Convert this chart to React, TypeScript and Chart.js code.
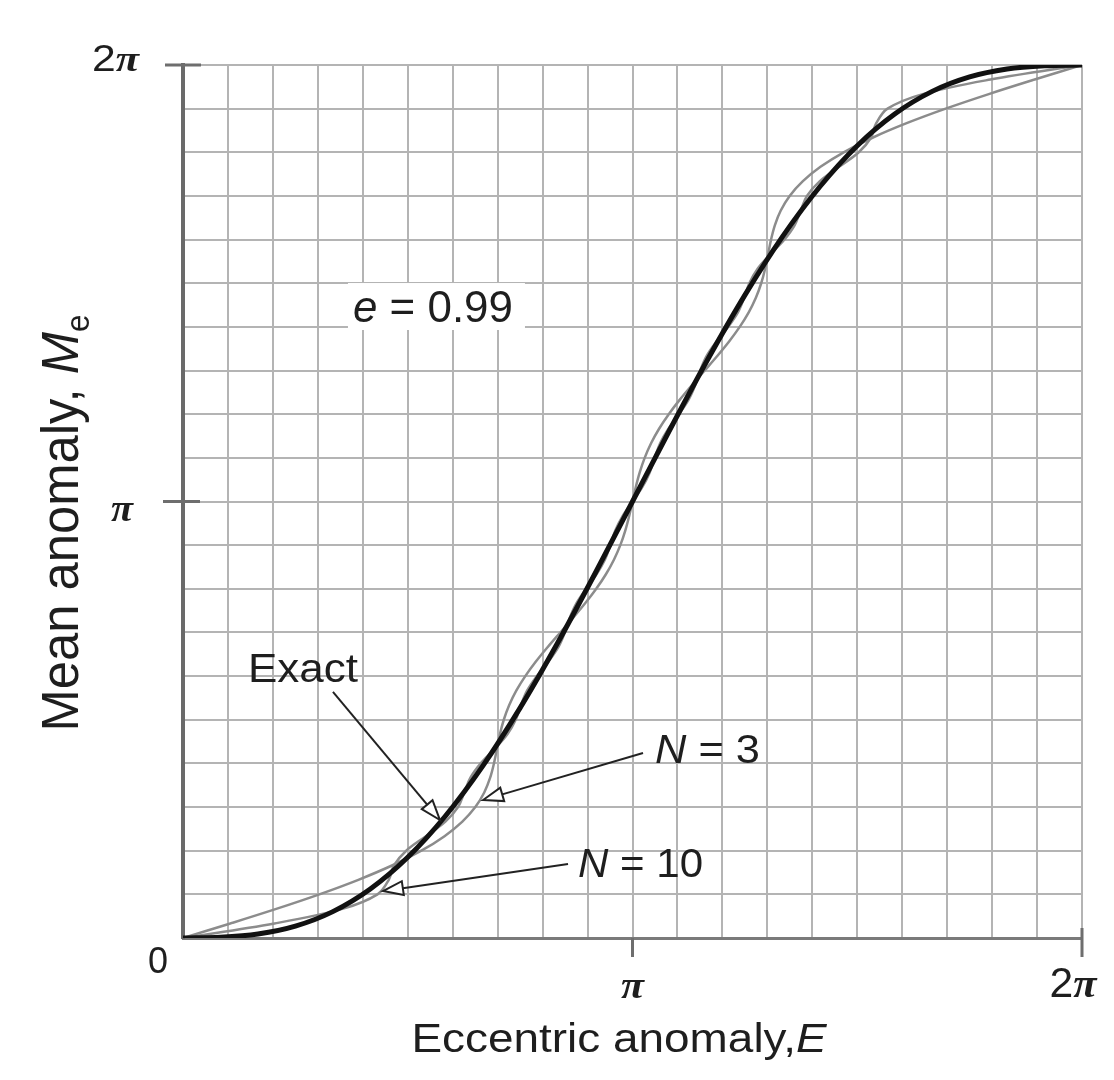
import React, { useEffect, useRef } from 'react';
import { Chart, registerables } from 'chart.js';

Chart.register(...registerables);

const PI = Math.PI;
const TWO_PI = 2 * Math.PI;

// Grid: 20 divisions of π/10 on each axis
const gridCount = 20;

// Exact curve: eccentric anomaly E (x) vs mean anomaly Me (y)
const exactE = [0, 0.2618, 0.5236, 0.7854, 1.0472, 1.309, 1.5708, 1.8326, 2.0944, 2.3562, 2.618, 2.8798, 3.1416, 3.4034, 3.6652, 3.927, 4.1888, 4.4506, 4.7124, 4.9742, 5.236, 5.4978, 5.7596, 6.0214, 6.2832];
const exactM = [0, 0.0056, 0.0286, 0.0854, 0.1898, 0.3527, 0.5808, 0.8763, 1.237, 1.6562, 2.123, 2.6236, 3.1416, 3.6596, 4.1602, 4.627, 5.0462, 5.4069, 5.7024, 5.9305, 6.0934, 6.1978, 6.2546, 6.2776, 6.2832];

// Series approximations: mean anomaly samples (y) and the E read for each (x)
const approxM = [0, 0.1047, 0.2094, 0.3142, 0.4189, 0.5236, 0.6283, 0.733, 0.8378, 0.9425, 1.0472, 1.1519, 1.2566, 1.3614, 1.4661, 1.5708, 1.6755, 1.7802, 1.885, 1.9897, 2.0944, 2.1991, 2.3038, 2.4086, 2.5133, 2.618, 2.7227, 2.8274, 2.9322, 3.0369, 3.1416, 3.2463, 3.351, 3.4558, 3.5605, 3.6652, 3.7699, 3.8746, 3.9794, 4.0841, 4.1888, 4.2935, 4.3982, 4.503, 4.6077, 4.7124, 4.8171, 4.9218, 5.0266, 5.1313, 5.236, 5.3407, 5.4454, 5.5502, 5.6549, 5.7596, 5.8643, 5.969, 6.0738, 6.1785, 6.2832];
const n3E = [0, 0.331, 0.6517, 0.9527, 1.2256, 1.4646, 1.6658, 1.8278, 1.9525, 2.0432, 2.1054, 2.1462, 2.1733, 2.1939, 2.2148, 2.242, 2.2794, 2.3293, 2.3923, 2.4664, 2.5494, 2.6372, 2.7257, 2.8106, 2.8882, 2.9558, 3.0118, 3.0565, 3.0911, 3.1184, 3.1416, 3.1648, 3.1921, 3.2267, 3.2714, 3.3274, 3.395, 3.4726, 3.5575, 3.646, 3.7338, 3.8168, 3.8909, 3.9539, 4.0038, 4.0412, 4.0684, 4.0893, 4.1099, 4.137, 4.1778, 4.24, 4.3307, 4.4554, 4.6174, 4.8186, 5.0576, 5.3305, 5.6315, 5.9522, 6.2832];
const n10E = [0, 0.6397, 1.114, 1.3593, 1.4381, 1.4752, 1.5602, 1.6976, 1.8339, 1.9222, 1.9661, 2.008, 2.0806, 2.1781, 2.2672, 2.3252, 2.3614, 2.4049, 2.4734, 2.5548, 2.6241, 2.669, 2.7029, 2.7494, 2.817, 2.8904, 2.9485, 2.9865, 3.0212, 3.0723, 3.1416, 3.2109, 3.262, 3.2967, 3.3347, 3.3928, 3.4662, 3.5338, 3.5803, 3.6142, 3.6591, 3.7284, 3.8098, 3.8783, 3.9218, 3.958, 4.016, 4.1051, 4.2026, 4.2752, 4.3171, 4.361, 4.4493, 4.5856, 4.723, 4.808, 4.8451, 4.9239, 5.1692, 5.6435, 6.2832];

type Seg = { t: string; italic?: boolean; serif?: boolean; bold?: boolean; sub?: boolean };

const SANS = '"Liberation Sans", Arial, sans-serif';
const SERIF = '"Liberation Serif", "Times New Roman", serif';

function drawRich(
  ctx: CanvasRenderingContext2D,
  segs: Seg[],
  x: number,
  y: number,
  size: number,
  opts: { align?: 'left' | 'center' | 'right'; width?: number; rotate?: number; sy?: number } = {}
) {
  const fontFor = (s: Seg) =>
    `${s.italic ? 'italic ' : ''}${s.bold ? 'bold ' : ''}${s.sub ? Math.round(size * 0.62) : size}px ${s.serif ? SERIF : SANS}`;
  ctx.save();
  let W = 0;
  const ws = segs.map((s) => {
    ctx.font = fontFor(s);
    const w = ctx.measureText(s.t).width;
    W += w;
    return w;
  });
  const sx = opts.width ? opts.width / W : 1;
  ctx.translate(x, y);
  if (opts.rotate) ctx.rotate(opts.rotate);
  ctx.scale(sx, opts.sy ?? 1);
  let cx = opts.align === 'center' ? -W / 2 : opts.align === 'right' ? -W : 0;
  ctx.textBaseline = 'alphabetic';
  ctx.textAlign = 'left';
  ctx.fillStyle = '#1e1e1e';
  segs.forEach((s, i) => {
    ctx.font = fontFor(s);
    ctx.fillText(s.t, cx, s.sub ? size * 0.2 : 0);
    cx += ws[i];
  });
  ctx.restore();
}

function arrow(ctx: CanvasRenderingContext2D, x1: number, y1: number, x2: number, y2: number) {
  const ang = Math.atan2(y2 - y1, x2 - x1);
  const len = 20;
  const hw = 7;
  const bx = x2 - len * Math.cos(ang);
  const by = y2 - len * Math.sin(ang);
  ctx.save();
  ctx.strokeStyle = '#222';
  ctx.lineWidth = 2;
  ctx.beginPath();
  ctx.moveTo(x1, y1);
  ctx.lineTo(bx, by);
  ctx.stroke();
  ctx.beginPath();
  ctx.moveTo(x2, y2);
  ctx.lineTo(bx + hw * Math.sin(ang), by - hw * Math.cos(ang));
  ctx.lineTo(bx - hw * Math.sin(ang), by + hw * Math.cos(ang));
  ctx.closePath();
  ctx.fillStyle = '#fff';
  ctx.fill();
  ctx.stroke();
  ctx.restore();
}

const PI_SEG: Seg = { t: 'π', italic: true, serif: true, bold: true };

const decorPlugin = {
  id: 'decor',
  beforeDraw(chart: any) {
    const ctx = chart.ctx;
    ctx.save();
    ctx.fillStyle = '#fff';
    ctx.fillRect(0, 0, chart.width, chart.height);
    ctx.restore();
  },
  afterDraw(chart: any) {
    const ctx: CanvasRenderingContext2D = chart.ctx;
    const xs = chart.scales.x;
    const ys = chart.scales.y;
    const px = (v: number) => xs.getPixelForValue(v);
    const py = (v: number) => ys.getPixelForValue(v);
    const left = chart.chartArea.left;
    const bottom = chart.chartArea.bottom;

    // tick stubs
    ctx.save();
    ctx.strokeStyle = '#6e6e6e';
    ctx.lineWidth = 3;
    ctx.beginPath();
    ctx.moveTo(left - 18, py(TWO_PI));
    ctx.lineTo(left + 18, py(TWO_PI));
    ctx.moveTo(left - 20, py(PI));
    ctx.lineTo(left + 17, py(PI));
    ctx.moveTo(px(PI), bottom);
    ctx.lineTo(px(PI), bottom + 19);
    ctx.moveTo(px(TWO_PI), bottom - 10);
    ctx.lineTo(px(TWO_PI), bottom + 19);
    ctx.stroke();
    ctx.restore();

    // tick labels
    drawRich(ctx, [{ t: '2' }, PI_SEG], left - 44, py(TWO_PI) + 6, 36, { align: 'right', width: 47 });
    drawRich(ctx, [PI_SEG], left - 61, py(PI) + 19, 38, { align: 'center', width: 22 });
    drawRich(ctx, [{ t: '0' }], left - 25, bottom + 35, 36, { align: 'center' });
    drawRich(ctx, [PI_SEG], px(PI), bottom + 60, 38, { align: 'center', width: 23 });
    drawRich(ctx, [{ t: '2' }, PI_SEG], px(TWO_PI) - 9, bottom + 59, 42, { align: 'center', width: 47 });

    // axis titles
    drawRich(ctx, [{ t: 'Eccentric anomaly,' }, { t: 'E', italic: true }], 619, bottom + 114, 40, { align: 'center', width: 415 });
    drawRich(ctx, [{ t: 'Mean anomaly, ' }, { t: 'M', italic: true }, { t: 'e', sub: true }], 78, 523, 50, {
      align: 'center',
      width: 417,
      rotate: -Math.PI / 2,
      sy: 1.05,
    });

    // e = 0.99 label with white box
    ctx.save();
    ctx.fillStyle = '#fff';
    const bx1 = px(1.153), bx2 = px(2.39), by1 = py(4.714), by2 = py(4.376);
    ctx.fillRect(bx1, by1, bx2 - bx1, by2 - by1);
    ctx.restore();
    drawRich(ctx, [{ t: 'e', italic: true }, { t: ' = 0.99' }], px(1.747), py(4.434), 44, { align: 'center', width: 160 });

    // curve labels + arrows
    drawRich(ctx, [{ t: 'Exact' }], px(0.454), py(1.843), 40, { align: 'left', width: 110 });
    arrow(ctx, px(1.048), py(1.771), px(1.796), py(0.849));
    drawRich(ctx, [{ t: 'N', italic: true }, { t: ' = 3' }], px(3.299), py(1.26), 40, { align: 'left', width: 105 });
    arrow(ctx, px(3.215), py(1.332), px(2.097), py(0.993));
    drawRich(ctx, [{ t: 'N', italic: true }, { t: ' = 10' }], px(2.761), py(0.439), 40, { align: 'left', width: 125 });
    arrow(ctx, px(2.691), py(0.533), px(1.398), py(0.338));
  },
};

const gridTicks = (scale: any) => {
  scale.ticks = Array.from({ length: gridCount + 1 }, (_, i) => ({ value: (i * TWO_PI) / gridCount }));
};

export default function App() {
  const ref = useRef<HTMLCanvasElement>(null);
  useEffect(() => {
    document.body.style.margin = '0';
    const exactData = exactE.map((e, i) => ({ x: e, y: exactM[i] }));
    const n3Data = approxM.map((m, i) => ({ x: n3E[i], y: m }));
    const n10Data = approxM.map((m, i) => ({ x: n10E[i], y: m }));
    const chart = new Chart(ref.current as HTMLCanvasElement, {
      type: 'line',
      data: {
        datasets: [
          {
            label: 'Exact',
            data: exactData,
            borderColor: '#111',
            borderWidth: 5,
            pointRadius: 0,
            cubicInterpolationMode: 'monotone',
            order: 0,
          },
          {
            label: 'N = 3',
            data: n3Data,
            borderColor: '#8c8c8c',
            borderWidth: 2.5,
            pointRadius: 0,
            tension: 0.35,
            order: 1,
          },
          {
            label: 'N = 10',
            data: n10Data,
            borderColor: '#8c8c8c',
            borderWidth: 2.5,
            pointRadius: 0,
            tension: 0.35,
            order: 2,
          },
        ],
      },
      options: {
        responsive: false,
        animation: false,
        devicePixelRatio: 1,
        layout: { padding: { top: 65, right: 32, left: 0, bottom: 0 } },
        plugins: { legend: { display: false }, tooltip: { enabled: false } },
        scales: {
          x: {
            type: 'linear',
            min: 0,
            max: TWO_PI,
            afterBuildTicks: gridTicks,
            afterFit: (s: any) => {
              s.height = 142;
            },
            ticks: { display: false },
            grid: { color: '#b4b4b4', lineWidth: 2, drawTicks: false },
            border: { display: true, color: '#7a7a7a', width: 3 },
          },
          y: {
            type: 'linear',
            min: 0,
            max: TWO_PI,
            afterBuildTicks: gridTicks,
            afterFit: (s: any) => {
              s.width = 183;
            },
            ticks: { display: false },
            grid: { color: '#b4b4b4', lineWidth: 2, drawTicks: false },
            border: { display: true, color: '#6a6a6a', width: 4 },
          },
        },
      },
      plugins: [decorPlugin],
    } as any);
    return () => chart.destroy();
  }, []);
  return (
    <div style={{ width: 1114, height: 1080, background: '#fff' }}>
      <canvas ref={ref} width={1114} height={1080} style={{ display: 'block' }} />
    </div>
  );
}
